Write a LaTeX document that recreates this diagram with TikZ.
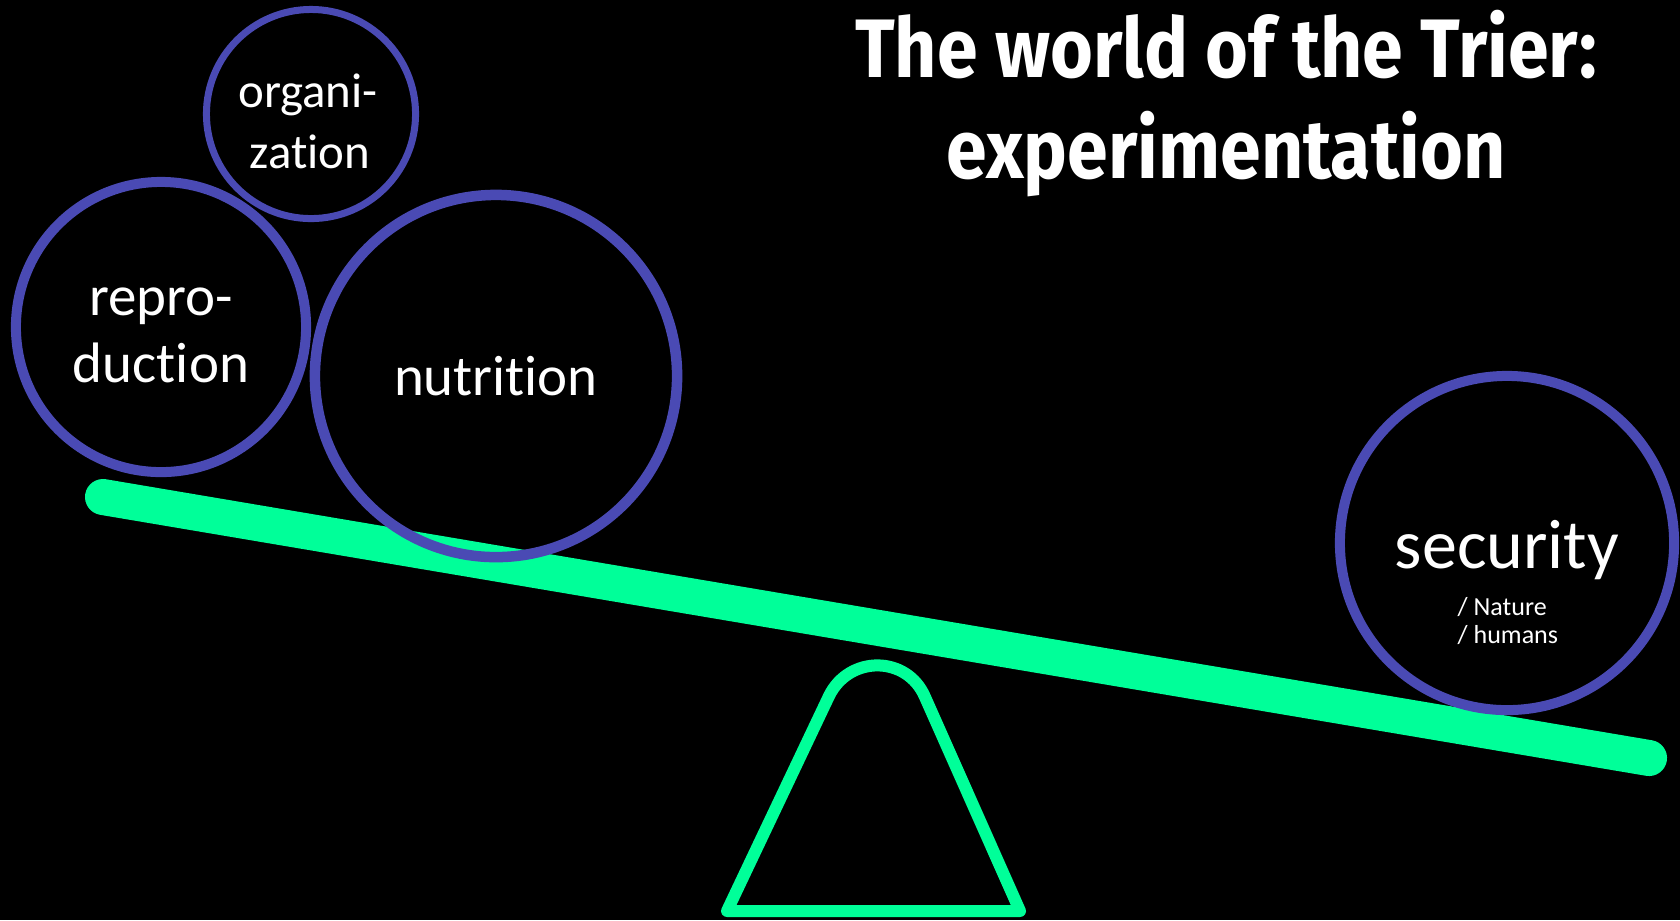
\documentclass[tikz,border=0pt]{standalone}
\usepackage{fontspec}
\setmainfont{Carlito}[Ligatures=NoCommon]
\newfontfamily\titlefont{Fira Sans}[FakeStretch=0.885]
\usepackage{xcolor}
\definecolor{ring}{HTML}{4A4AB4}
\definecolor{seesaw}{HTML}{00FF99}
\tikzset{
  ring/.style={draw=ring,line width=0.1cm,circle,inner sep=0pt},
  word/.style={text=white,inner sep=0pt,anchor=base},
  title/.style={word,font=\titlefont\bfseries\fontsize{23.6pt}{28pt}\selectfont},
}

\begin{document}
\begin{tikzpicture}[x=0.01cm,y=-0.01cm]
\fill[black](0,0)rectangle(1680,920);
\coordinate(plank-l)at(103,497);\coordinate(plank-r)at(1649,758);
\draw[seesaw,line width=0.36cm,line cap=round](plank-l)--(plank-r);
\draw[seesaw,line width=0.12cm,line join=round](727,911)--(829,696)..controls(849,655)and(907,655)..(925,697)--(1020,911)--cycle;
\node[ring,minimum size=2.9cm](repro)at(161,327){};
\node[ring,line width=0.07cm,minimum size=2.09cm](orga)at(311,114){};
\node[ring,line width=0.105cm,minimum size=3.62cm](nutri)at(496,376){};
\node[ring,minimum size=3.34cm](secu)at(1507,543){};
\node[word,font=\fontsize{16.2pt}{19pt}\selectfont](repro-a)at(161,315){repro-};
\node[word,font=\fontsize{16.2pt}{19pt}\selectfont](repro-b)at(161,382){duction};
\node[word,font=\fontsize{13.9pt}{17pt}\selectfont](orga-a)at(308,107){organi-};
\node[word,font=\fontsize{13.9pt}{17pt}\selectfont](orga-b)at(310,168){zation};
\node[word,font=\fontsize{16.2pt}{19pt}\selectfont](nutri-a)at(496,395){nutrition};
\node[word,font=\fontsize{19.9pt}{24pt}\selectfont](secu-a)at(1507,568){security};
\node[word,anchor=base west,font=\fontsize{7.4pt}{9pt}\selectfont](secu-b)at(1457,615){/ Nature};
\node[word,anchor=base west,font=\fontsize{7.4pt}{9pt}\selectfont](secu-c)at(1457,643){/ humans};
\node[title](title-a)at(1226,77){The world of the Trier:};
\node[title](title-b)at(1226,178){experimentation};
\end{tikzpicture}
\end{document}
